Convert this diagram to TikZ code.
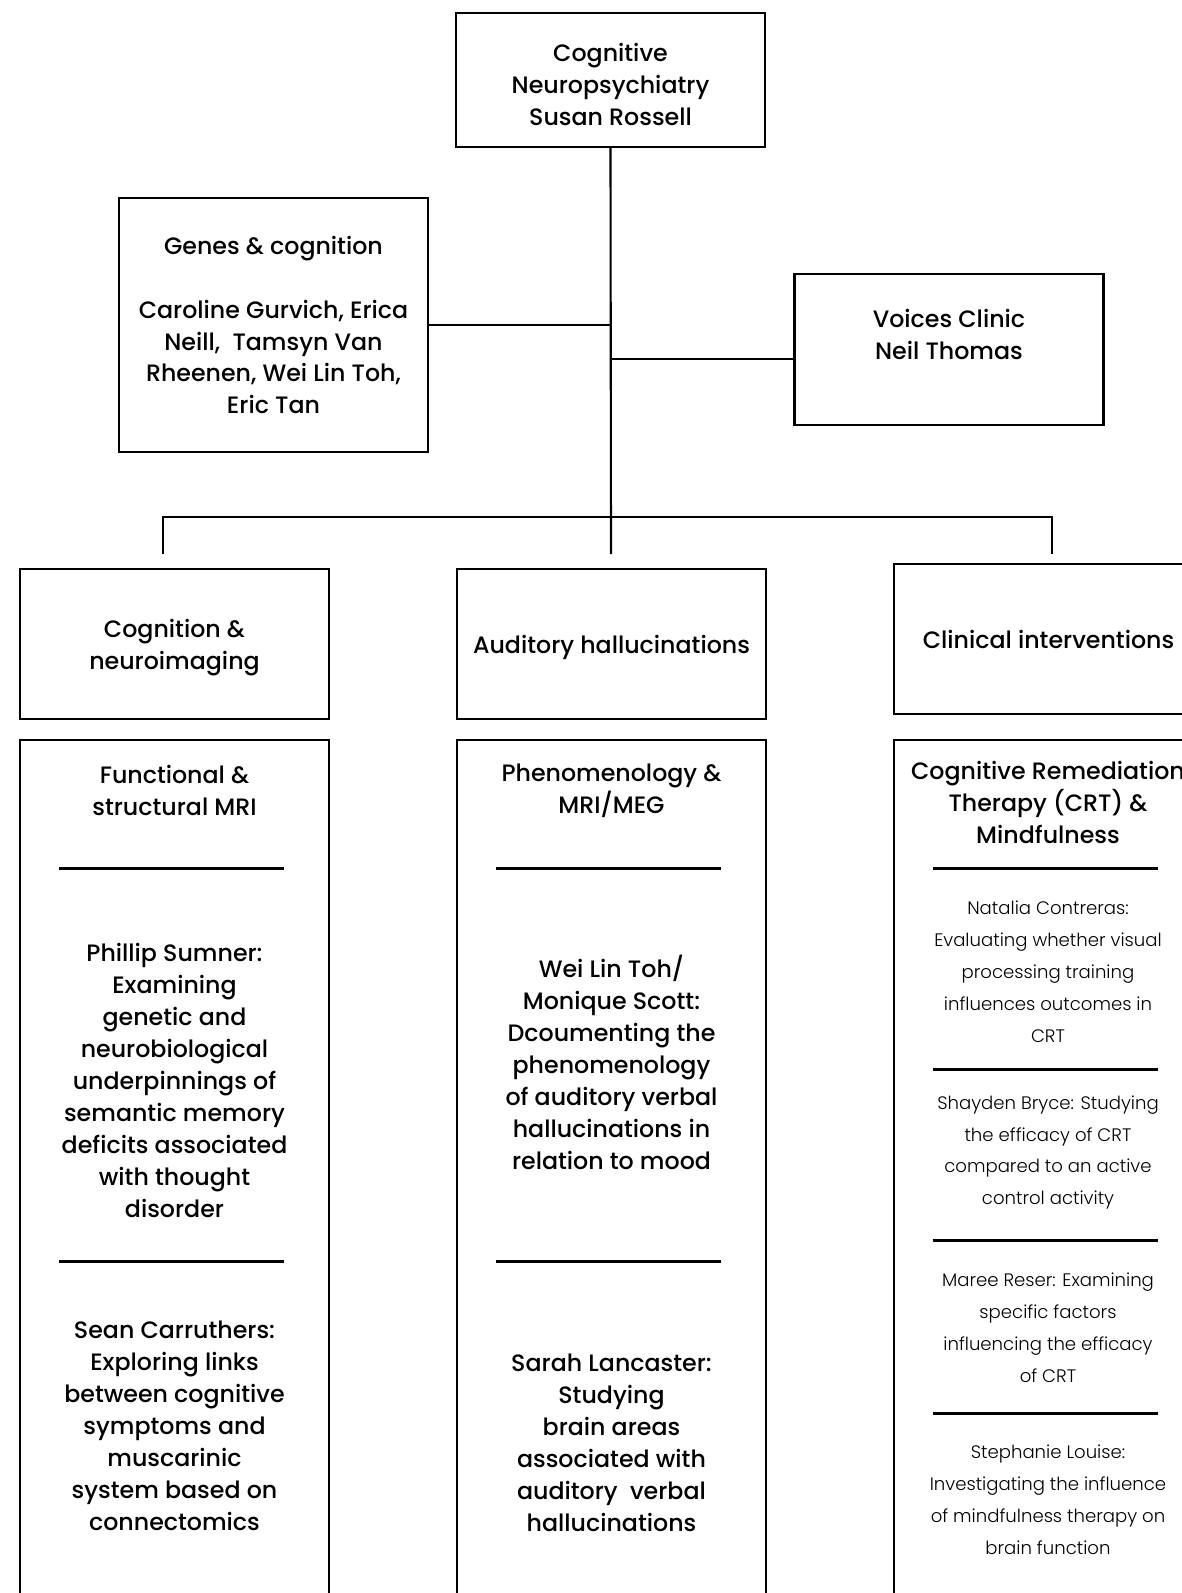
\documentclass[tikz,border=0pt]{standalone}
\usepackage{fontspec}
\setmainfont{Poppins}
\newfontfamily\medfont{Poppins}[UprightFont=* Medium]
\newfontfamily\litefont{Poppins}[UprightFont=* Light]

\begin{document}
\begin{tikzpicture}[
    x=0.02cm, y=-0.02cm,
    every node/.style={inner sep=0pt},
    mainbox/.style={
      rectangle, draw, line width=1.4pt,
      minimum width=6.18cm, align=center,
      font=\medfont\fontsize{13.5}{18.2}\selectfont
    },
    body/.style={align=center, font=\medfont\fontsize{13.5}{18.2}\selectfont},
    note/.style={align=center, font=\litefont\fontsize{10.3}{18.2}\selectfont},
    rule/.style={line width=1.7pt},
    link/.style={line width=1.2pt}
  ]
  \useasboundingbox (0,0) rectangle (1182,1593);
  \clip (0,0) rectangle (1182,1593);

  % ===== Top: the group and its two side teams =====
  \node[mainbox, minimum height=2.68cm] (top) at (610.5, 80) {};
  \node[body] (toplbl) at (610.5, 84)
    {Cognitive\\Neuropsychiatry\\Susan Rossell};
  \node[mainbox, minimum height=5.08cm] (genes) at (273.5, 325)
    {Genes \& cognition\\[18.2pt]
     Caroline Gurvich, Erica\\Neill,\ \ Tamsyn Van\\
     Rheenen, Wei Lin Toh,\\Eric Tan};
  \node[mainbox, minimum height=3.02cm] (voices) at (949, 349.5) {};
  \node[body] (voiceslbl) at (949, 334.5) {Voices Clinic\\Neil Thomas};

  % ===== Middle: the three streams =====
  \node[mainbox, minimum height=3.0cm] (cogni) at (174.5, 644) {};
  \node[body] (cognilbl) at (174.5, 648) {Cognition \&\\neuroimaging};
  \node[mainbox, minimum height=3.0cm] (audit) at (611.5, 644) {};
  \node[body] (auditlbl) at (611.5, 647) {Auditory hallucinations};
  \node[mainbox, minimum height=3.0cm] (clinic) at (1048.5, 639)
    {Clinical interventions};

  % ===== Bottom: the project columns =====
  \node[mainbox, minimum height=18cm] (colL) at (174.5, 1190) {};
  \node[mainbox, minimum height=18cm] (colM) at (611.5, 1190) {};
  \node[mainbox, minimum height=18cm] (colR) at (1048.5, 1190) {};

  \node[body] (mri) at (174.5, 790.5) {Functional \&\\structural MRI};
  \node[body] (meg) at (611.5, 790.5) {Phenomenology \&\\MRI/MEG};
  \node[body] (crt) at (1048, 802.5)
    {Cognitive Remediation\\Therapy (CRT) \&\\Mindfulness};

  \draw[rule] (59,868) -- (284,868);
  \draw[rule] (496,868) -- (721,868);
  \draw[rule] (933,868) -- (1158,868);
  \draw[rule] (59,1261) -- (284,1261);
  \draw[rule] (496,1261) -- (721,1261);
  \draw[rule] (933,1069) -- (1158,1069);
  \draw[rule] (933,1240) -- (1158,1240);
  \draw[rule] (933,1413) -- (1158,1413);

  \node[body] (sumner) at (174.5, 1080.5)
    {Phillip Sumner:\\Examining\\genetic and\\neurobiological\\underpinnings of\\
     semantic memory\\deficits associated\\with thought\\disorder};
  \node[body] (carruthers) at (174.5, 1425.5)
    {Sean Carruthers:\\Exploring links\\between cognitive\\symptoms and\\
     muscarinic\\system based on\\connectomics};
  \node[body] (toh) at (611.5, 1062)
    {Wei Lin Toh/\\Monique Scott:\\Dcoumenting the\\phenomenology\\
     of auditory verbal\\hallucinations in\\relation to mood};
  \node[body] (lancaster) at (611.5, 1442.5)
    {Sarah Lancaster:\\Studying\\brain areas\\associated with\\
     auditory\ \ verbal\\hallucinations};

  \node[note] (contreras) at (1048, 972)
    {Natalia Contreras:\\Evaluating whether visual\\processing training\\
     influences outcomes in\\CRT};
  \node[note] (bryce) at (1048, 1152.5)
    {Shayden Bryce: Studying\\the efficacy of CRT\\compared to an active\\
     control activity};
  \node[note] (reser) at (1048, 1327.5)
    {Maree Reser: Examining\\specific factors\\influencing the efficacy\\of CRT};
  \node[note] (louise) at (1048, 1500)
    {Stephanie Louise:\\Investigating the influence\\of mindfulness therapy on\\
     brain function};

  % ===== Connectors =====
  \coordinate (dropL) at (163, 554);
  \coordinate (dropM) at (611, 554);
  \coordinate (dropR) at (1052, 554);
  \coordinate (bar) at (611, 517);
  \coordinate (vjoin) at (611, 359);
  \draw[link] (top.south) -- (dropM);
  \draw[link] (genes.east) -- (genes.east -| top.south);
  \draw[link] (vjoin) -- (vjoin -| voices.west);
  \draw[link] (dropL) -- (dropL |- bar) -- (dropR |- bar) -- (dropR);
\end{tikzpicture}
\end{document}
